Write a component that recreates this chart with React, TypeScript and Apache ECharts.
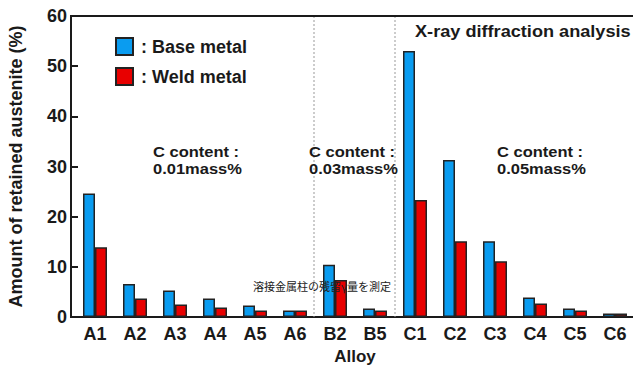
import React, { useEffect, useRef } from "react";
import * as echarts from "echarts";

const categories = ["A1", "A2", "A3", "A4", "A5", "A6", "B2", "B5", "C1", "C2", "C3", "C4", "C5", "C6"];
const baseMetal = [24.6, 6.6, 5.3, 3.7, 2.3, 1.3, 10.4, 1.7, 53.0, 31.3, 15.1, 3.9, 1.7, 0.7];
const weldMetal = [13.9, 3.7, 2.5, 1.9, 1.3, 1.3, 7.4, 1.3, 23.3, 15.1, 11.1, 2.7, 1.3, 0.7];
const seriesNames = ["Base metal", "Weld metal"];
const groupLabels = ["C content :\n0.01mass%", "C content :\n0.03mass%", "C content :\n0.05mass%"];
const methodLabel = "X-ray diffraction analysis";
const noteLabel = "溶接金属柱の残留γ量を測定";

const FONT = "'Liberation Sans', Arial, Helvetica, sans-serif";
const INK = "#1a1a1a";

export default function App() {
  const ref = useRef<HTMLDivElement>(null);

  useEffect(() => {
    if (!ref.current) return;
    const chart = echarts.init(ref.current, null, { renderer: "svg" });
    const lastIdx = categories.length - 1;
    chart.setOption({
      animation: false,
      backgroundColor: "#ffffff",
      textStyle: { fontFamily: FONT },
      grid: { left: 75, top: 16, width: 560, height: 301, containLabel: false, outerBoundsMode: "none" },
      legend: {
        data: seriesNames,
        orient: "vertical",
        left: 110,
        top: 32,
        itemWidth: 17,
        itemHeight: 17,
        itemGap: 11,
        icon: "rect",
        formatter: ": {name}",
        textStyle: { fontFamily: FONT, fontSize: 18, lineHeight: 17, fontWeight: "bold", color: INK, padding: [0, 0, 0, 3] },
      },
      xAxis: {
        type: "category",
        data: categories,
        axisLine: { lineStyle: { color: INK, width: 2 } },
        axisTick: { show: false },
        axisLabel: { fontFamily: FONT, fontSize: 18, fontWeight: "bold", color: INK, margin: 8 },
        name: "Alloy",
        nameLocation: "middle",
        nameGap: 25,
        nameTextStyle: { fontFamily: FONT, fontSize: 17, lineHeight: 17, fontWeight: "bold", color: INK },
      },
      yAxis: {
        type: "value",
        min: 0,
        max: 60,
        interval: 10,
        offset: 4,
        axisLine: { show: true, lineStyle: { color: INK, width: 2 } },
        axisTick: { show: true, inside: true, length: 7, lineStyle: { color: INK, width: 2 } },
        axisLabel: { fontFamily: FONT, fontSize: 18, fontWeight: "bold", color: INK, margin: 4 },
        splitLine: { show: false },
        name: "Amount of retained austenite (%)",
        nameLocation: "middle",
        nameGap: 46,
        nameTextStyle: { fontFamily: FONT, fontSize: 18, fontWeight: "bold", color: INK },
      },
      series: [
        {
          name: seriesNames[0],
          type: "bar",
          data: baseMetal,
          barWidth: 12,
          barGap: "0%",
          itemStyle: { color: "#0a9cf0", borderColor: "#222", borderWidth: 1.5 },
        },
        {
          name: seriesNames[1],
          type: "bar",
          data: weldMetal.map((v, i) => (i === lastIdx ? { value: v, itemStyle: { color: "#6a1414" } } : v)),
          barWidth: 12,
          barGap: "0%",
          itemStyle: { color: "#e80000", borderColor: "#222", borderWidth: 1.5 },
        },
      ],
    });

    const px = (i: number) => chart.convertToPixel({ xAxisIndex: 0 }, categories[i]) as number;
    const top = chart.convertToPixel({ yAxisIndex: 0 }, 60) as number;
    const bottom = chart.convertToPixel({ yAxisIndex: 0 }, 0) as number;
    const sep1 = (px(5) + px(6)) / 2 - 1;
    const sep2 = (px(7) + px(8)) / 2;
    const left = 71;

    const textStyle = (text: string, extra: any = {}) => ({
      text,
      fontFamily: FONT,
      fontWeight: "bold",
      fontSize: 15,
      lineHeight: 17,
      fill: INK,
      ...extra,
    });

    chart.setOption({
      graphic: [
        { type: "line", z: 50, shape: { x1: left - 1, y1: top, x2: 640, y2: top }, style: { stroke: INK, lineWidth: 2 } },
        { type: "line", z: 50, shape: { x1: left - 1, y1: bottom, x2: 76, y2: bottom }, style: { stroke: INK, lineWidth: 2 } },
        { type: "line", z: 1, shape: { x1: sep1, y1: top, x2: sep1, y2: bottom }, style: { stroke: "#999", lineWidth: 1, lineDash: [2, 2] } },
        { type: "line", z: 1, shape: { x1: sep2, y1: top, x2: sep2, y2: bottom }, style: { stroke: "#999", lineWidth: 1, lineDash: [2, 2] } },
        { type: "text", z: 100, x: 153, y: 143, scaleX: 1.1, style: textStyle(groupLabels[0]) },
        { type: "text", z: 100, x: 309, y: 143, scaleX: 1.1, style: textStyle(groupLabels[1]) },
        { type: "text", z: 100, x: 497, y: 143, scaleX: 1.1, style: textStyle(groupLabels[2]) },
        { type: "text", z: 100, x: 415, y: 23, scaleX: 1.1, style: textStyle(methodLabel, { fontSize: 16.5 }) },
        {
          type: "text",
          z: 100,
          x: 253,
          y: 280,
          style: { text: noteLabel, fontFamily: "'Noto Sans CJK JP', sans-serif", fontSize: 11, fill: "#222" },
        },
      ],
    });

    return () => chart.dispose();
  }, []);

  return (
    <div
      ref={ref}
      style={{ position: "fixed", left: 0, top: 0, width: 633, height: 365, background: "#fff" }}
    />
  );
}
